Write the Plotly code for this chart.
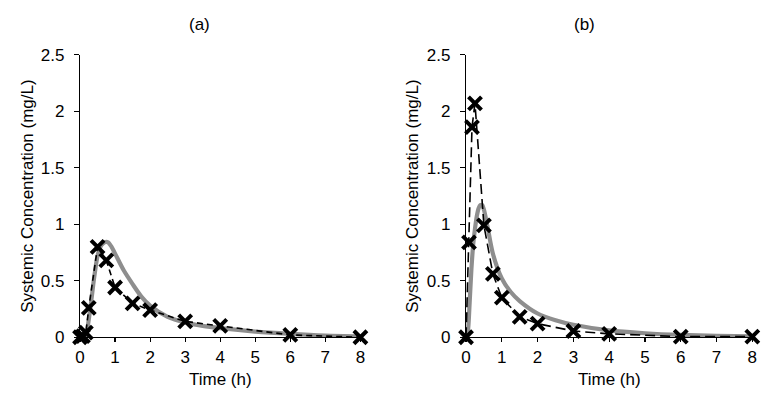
import plotly.graph_objects as go

# ---- data ----
obs_time = [0, 0.083, 0.167, 0.25, 0.5, 0.75, 1, 1.5, 2, 3, 4, 6, 8]
obs_a = [0, 0.01, 0.04, 0.26, 0.80, 0.68, 0.44, 0.30, 0.24, 0.14, 0.10, 0.02, 0.0]
obs_b = [0, 0.84, 1.86, 2.07, 0.99, 0.56, 0.35, 0.18, 0.12, 0.055, 0.03, 0.005, 0.005]

model_time_a = [0, 0.1, 0.15, 0.2, 0.3, 0.4, 0.5, 0.6, 0.7, 0.8, 0.9, 1.0, 1.25, 1.5,
                1.75, 2, 2.5, 3, 3.5, 4, 5, 6, 7, 8]
model_a = [0, 0, 0.01, 0.06, 0.27, 0.52, 0.72, 0.81, 0.84, 0.84, 0.80, 0.74, 0.59, 0.47,
           0.36, 0.28, 0.18, 0.13, 0.10, 0.08, 0.05, 0.03, 0.015, 0.008]

model_time_b = [0, 0.05, 0.1, 0.15, 0.2, 0.25, 0.3, 0.35, 0.4, 0.45, 0.5, 0.6, 0.75, 1.0,
                1.25, 1.5, 2, 2.5, 3, 4, 5, 6, 7, 8]
model_b = [0, 0.05, 0.3, 0.6, 0.82, 0.96, 1.07, 1.14, 1.17, 1.17, 1.13, 0.98, 0.74, 0.52,
           0.40, 0.32, 0.21, 0.15, 0.11, 0.06, 0.035, 0.02, 0.012, 0.008]

panel_titles = ["(a)", "(b)"]
x_title = "Time (h)"
y_title = "Systemic Concentration (mg/L)"
x_ticks = [0, 1, 2, 3, 4, 5, 6, 7, 8]
y_ticks = [0, 0.5, 1, 1.5, 2, 2.5]
y_ticklabels = ["0", "0.5", "1", "1.5", "2", "2.5"]

# ---- styling ----
W, H = 782, 414
FONT = "Liberation Sans, Arial, sans-serif"
FS = 17
GRAY = "#8e8e8e"

fig = go.Figure()

panels = [
    ("x", "y", model_time_a, model_a, obs_a, "6px,4px"),
    ("x2", "y2", model_time_b, model_b, obs_b, "10px,5px"),
]
for xa, ya, mt, mv, ov, dash in panels:
    fig.add_trace(go.Scatter(
        x=mt, y=mv, xaxis=xa, yaxis=ya, mode="lines",
        line=dict(color=GRAY, width=4.2, shape="spline", smoothing=0.8),
        cliponaxis=False, showlegend=False, hoverinfo="skip"))
    fig.add_trace(go.Scatter(
        x=obs_time, y=ov, xaxis=xa, yaxis=ya, mode="lines+markers",
        line=dict(color="black", width=1.6, dash=dash),
        marker=dict(symbol="x-thin-open", size=13, color="black",
                    line=dict(color="black", width=4)),
        cliponaxis=False, showlegend=False))

ydom = [1 - 344 / H, 1 - 48 / H]
xdom_a = [76 / W, 360 / W]
xdom_b = [467 / W, 757 / W]

xcommon = dict(range=[0, 8], tickvals=x_ticks, showgrid=False, zeroline=False,
               showline=True, linecolor="black", linewidth=1.2,
               ticks="outside", ticklen=4, tickwidth=1.2, tickcolor="black",
               tickfont=dict(family=FONT, size=FS, color="black"), fixedrange=True)
ycommon = dict(range=[0, 2.5], tickvals=y_ticks, ticktext=y_ticklabels,
               showgrid=False, zeroline=False, showline=True, linecolor="black",
               linewidth=1.2, ticks="outside", ticklen=5, tickwidth=1.2,
               tickcolor="black", tickfont=dict(family=FONT, size=FS, color="black"),
               ticklabelstandoff=6, fixedrange=True)
xinner = dict(range=[0, 8], tickvals=x_ticks, showgrid=False, zeroline=False,
              showline=False, ticks="inside", ticklen=4, tickwidth=1.2,
              tickcolor="black", showticklabels=False, fixedrange=True)

fig.update_layout(
    width=W, height=H,
    margin=dict(l=0, r=0, t=0, b=0),
    paper_bgcolor="white", plot_bgcolor="rgba(0,0,0,0)",
    font=dict(family=FONT, size=FS, color="black"),
    xaxis=dict(domain=xdom_a, anchor="y", **xcommon),
    yaxis=dict(domain=ydom, anchor="x", **ycommon),
    xaxis2=dict(domain=xdom_b, anchor="y2", **xcommon),
    yaxis2=dict(domain=ydom, anchor="x2", **ycommon),
    xaxis3=dict(overlaying="x", anchor="y", **xinner),
    xaxis4=dict(overlaying="x2", anchor="y2", **xinner),
)

# panel titles and axis titles as annotations
ann = []
for cx, t in zip([197, 587], panel_titles):
    ann.append(dict(x=cx / W, y=1 - 16 / H, xref="paper", yref="paper", text=t,
                    showarrow=False, xanchor="center", yanchor="middle",
                    font=dict(family=FONT, size=FS, color="black")))
for cx in [218, 612]:
    ann.append(dict(x=cx / W, y=1 - 388 / H, xref="paper", yref="paper", text=x_title,
                    showarrow=False, xanchor="center", yanchor="middle",
                    font=dict(family=FONT, size=FS, color="black")))
for cx in [22, 412]:
    ann.append(dict(x=cx / W, y=1 - 196 / H, xref="paper", yref="paper", text=y_title,
                    textangle=-90, showarrow=False, xanchor="center", yanchor="middle",
                    font=dict(family=FONT, size=FS, color="black")))
fig.update_layout(annotations=ann)

fig.write_html("out.html", config={"displayModeBar": False, "staticPlot": True},
               post_script="document.body.style.margin='0';document.body.style.overflow='hidden';")
